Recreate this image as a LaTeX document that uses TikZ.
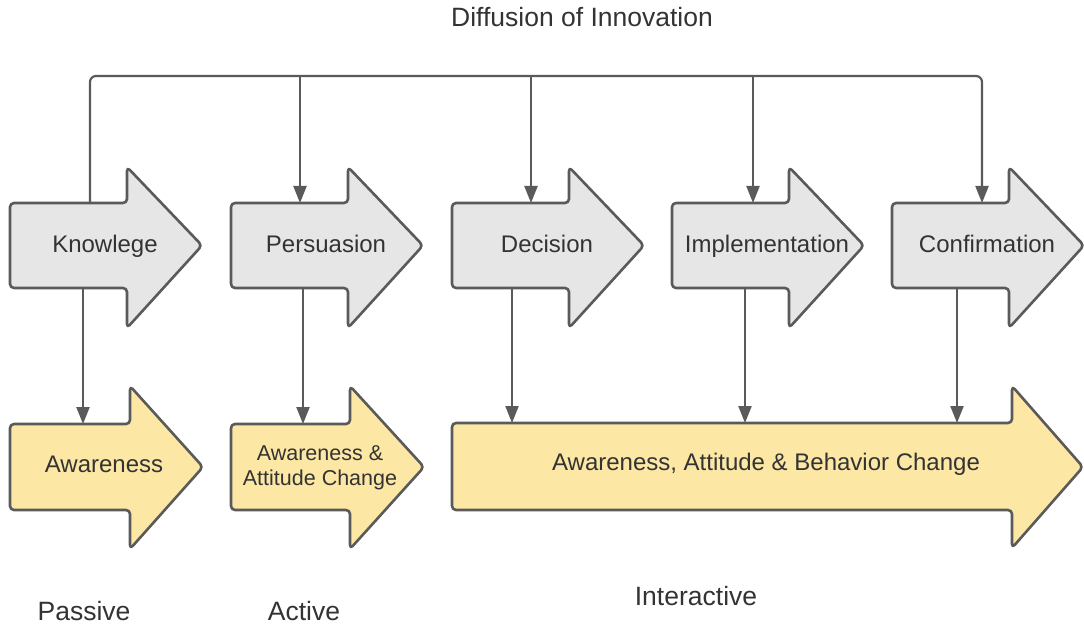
\documentclass[tikz,border=0pt]{standalone}
\usepackage{fontspec}
\setmainfont{Liberation Sans}
\usetikzlibrary{arrows.meta}
\definecolor{edgegrey}{HTML}{5A5A5A}
\definecolor{stagefill}{HTML}{E6E6E6}
\definecolor{effectfill}{HTML}{FCE7A4}
\definecolor{ink}{HTML}{333333}

\begin{document}
\begin{tikzpicture}[x=1pt,y=-1pt,
  blockarrow/.style={draw=edgegrey, line width=2.6pt, rounded corners=4pt, line join=round},
  stage/.style={blockarrow, fill=stagefill},
  effect/.style={blockarrow, fill=effectfill},
  lbl/.style={text=ink, font=\fontsize{24}{28}\selectfont, inner sep=0pt, anchor=base},
  caption/.style={text=ink, font=\fontsize{26.5}{30}\selectfont, inner sep=0pt, anchor=base},
  link/.style={draw=edgegrey, line width=2.2pt, rounded corners=6pt},
  feed/.style={link, -{Triangle[length=17pt,width=13pt]}},
]
\useasboundingbox (0,0) rectangle (1084,628);

% title
\node[caption] (title) at (582,27) {Diffusion of Innovation};

% stages of the innovation-decision process
\foreach \l/\n/\t in {10/knowl/Knowlege, 231/persu/Persuasion, 452/decis/Decision,
                      672/implem/Implementation, 892/confirm/Confirmation} {
  \draw[stage] (\l,203) -- (\l+117,203) -- (\l+117,167) -- (\l+192,245.5)
               -- (\l+117,328) -- (\l+117,288) -- (\l,288) -- cycle;
  \node[lbl] (\n) at (\l+95,253) {\t};
}

% resulting change
\draw[effect] (10,424) -- (130,424) -- (130,386) -- (203,467) -- (130,549)
              -- (130,510) -- (10,510) -- cycle;
\node[lbl] (aware) at (104,472) {Awareness};

\draw[effect] (231,424) -- (350,424) -- (350,386) -- (424,467) -- (350,549)
              -- (350,510) -- (231,510) -- cycle;
\node[lbl, font=\fontsize{21.5}{24.5}\selectfont, align=center] (attitude) at (320,485)
  {Awareness \&\\Attitude Change};

\draw[effect] (452,423) -- (1012,423) -- (1012,386) -- (1083,467) -- (1012,548)
              -- (1012,510) -- (452,510) -- cycle;
\node[lbl] (behavior) at (766,470) {Awareness, Attitude \& Behavior Change};

% connector ports
\coordinate (bus)        at (0,76);
\coordinate (knowl-in)   at (90,203);
\coordinate (persu-in)   at (300,203);
\coordinate (decis-in)   at (531,203);
\coordinate (implem-in)  at (753,203);
\coordinate (confirm-in) at (982,203);

\coordinate (knowl-out)   at (83,288);
\coordinate (persu-out)   at (303,288);
\coordinate (decis-out)   at (512,288);
\coordinate (implem-out)  at (745,288);
\coordinate (confirm-out) at (957,288);

\coordinate (aware-in)      at (83,424);
\coordinate (attitude-in)   at (303,424);
\coordinate (behavior-in-a) at (512,423);
\coordinate (behavior-in-b) at (745,423);
\coordinate (behavior-in-c) at (957,423);

% feedback bus along the top
\draw[feed] (knowl-in) -- (knowl-in |- bus) -- (confirm-in |- bus) -- (confirm-in);
\draw[feed] (persu-in |- bus) -- (persu-in);
\draw[feed] (decis-in |- bus) -- (decis-in);
\draw[feed] (implem-in |- bus) -- (implem-in);

% stage to change
\draw[feed] (knowl-out) -- (aware-in);
\draw[feed] (persu-out) -- (attitude-in);
\draw[feed] (decis-out) -- (behavior-in-a);
\draw[feed] (implem-out) -- (behavior-in-b);
\draw[feed] (confirm-out) -- (behavior-in-c);

% levels of engagement
\node[caption] (passive) at (84,620) {Passive};
\node[caption] (active) at (304,620) {Active};
\node[caption] (interactive) at (696,605) {Interactive};
\end{tikzpicture}
\end{document}
